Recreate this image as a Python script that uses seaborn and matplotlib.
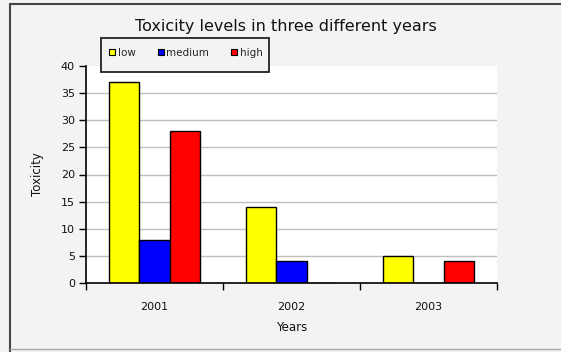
import matplotlib
matplotlib.use("Agg")
import matplotlib.pyplot as plt
from matplotlib.lines import Line2D
from matplotlib.patches import Rectangle
from matplotlib.ticker import FixedLocator, NullFormatter
import pandas as pd
import seaborn as sns

# Toxicity readings per year and level
years = ["2001", "2002", "2003"]
levels = ["low", "medium", "high"]
low = [37, 14, 5]
medium = [8, 4, 0]
high = [28, 0, 4]
yticks = [0, 5, 10, 15, 20, 25, 30, 35, 40]
palette = {"low": "#ffff00", "medium": "#0000ff", "high": "#ff0000"}

df = pd.DataFrame({
    "Years": years * 3,
    "Level": ["low"] * 3 + ["medium"] * 3 + ["high"] * 3,
    "Toxicity": low + medium + high,
})

sns.set_theme(style="white")
plt.rcParams["font.family"] = ["DejaVu Sans"]

W, H = 561, 352
fig = plt.figure(figsize=(W / 100, H / 100), dpi=100, facecolor="#f3f3f3")
ax = fig.add_axes([86 / W, 1 - 283 / H, (497 - 86) / W, (283 - 66) / H])
ax.set_facecolor("white")

sns.barplot(data=df, x="Years", y="Toxicity", hue="Level", hue_order=levels,
            order=years, palette=palette, width=0.667, edgecolor="black",
            linewidth=1.0, saturation=1, ax=ax, legend=False, zorder=3)

ax.set_ylim(0, 40)
ax.set_xlim(-0.5, 2.5)
ax.set_yticks(yticks)
ax.tick_params(axis="y", direction="out", length=5, width=1, color="black",
               labelsize=8, pad=3, left=True)
ax.tick_params(axis="x", which="major", length=0, labelsize=8, pad=14)
ax.xaxis.set_minor_locator(FixedLocator([-0.5, 0.5, 1.5, 2.5]))
ax.xaxis.set_minor_formatter(NullFormatter())
ax.tick_params(axis="x", which="minor", direction="out", length=5, width=1,
               color="black", bottom=True)
for lbl in ax.get_xticklabels() + ax.get_yticklabels():
    lbl.set_color("#111111")

ax.hlines(yticks[1:-1], -0.5, 2.5, colors="#c0c0c0", linewidth=1, zorder=1)

for side in ("top", "right"):
    ax.spines[side].set_visible(False)
for side in ("left", "bottom"):
    ax.spines[side].set_color("black")
    ax.spines[side].set_linewidth(1.2)
    ax.spines[side].set_zorder(4)

ax.set_xlabel("Years", fontsize=8.5, labelpad=6, color="#111111")
ax.set_ylabel("Toxicity", fontsize=8.5, labelpad=12, color="#111111")

fig.text(286 / W, 1 - 27 / H, "Toxicity levels in three different years",
         ha="center", va="center", fontsize=11.5, color="#111111")

# Legend box
fig.patches.append(Rectangle((101 / W, 1 - 72 / H), (269 - 101) / W, (72 - 38) / H,
                             transform=fig.transFigure, facecolor="#f3f3f3",
                             edgecolor="#222222", linewidth=1.3, zorder=5))
handles = [Line2D([], [], linestyle="none", marker="s", markersize=4.5,
                  markerfacecolor=palette[l], markeredgecolor="black",
                  markeredgewidth=0.8) for l in levels]
leg = fig.legend(handles, levels, loc="center left", ncol=3,
                 bbox_to_anchor=(109 / W, 1 - 53 / H), frameon=False,
                 fontsize=7.5, handlelength=0.6, handletextpad=0.25,
                 columnspacing=2.1, borderpad=0, borderaxespad=0)
leg.set_zorder(6)

# Outer frame lines
fig.add_artist(Line2D([10 / W, 1], [1 - 4 / H, 1 - 4 / H], color="#444444",
                      linewidth=1.5, transform=fig.transFigure))
fig.add_artist(Line2D([10 / W, 10 / W], [0, 1 - 4 / H], color="#444444",
                      linewidth=1.5, transform=fig.transFigure))
fig.add_artist(Line2D([10 / W, 1], [1 - 349 / H, 1 - 349 / H], color="#a8a8a8",
                      linewidth=1, transform=fig.transFigure))

fig.savefig("out.png", dpi=100, facecolor=fig.get_facecolor())
